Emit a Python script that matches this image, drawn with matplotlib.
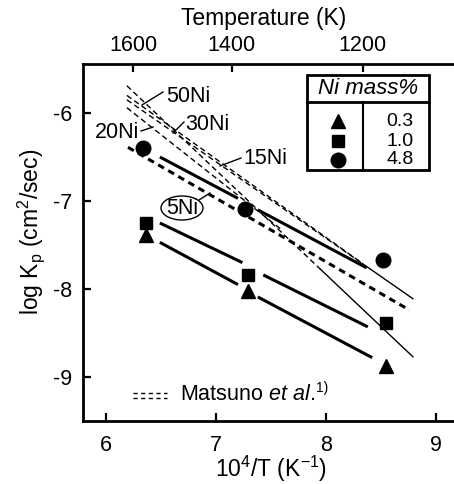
import matplotlib
matplotlib.use("Agg")
import matplotlib.pyplot as plt
from matplotlib.lines import Line2D
from matplotlib.patches import Rectangle, Ellipse

plt.rcParams['font.family'] = ['Liberation Sans', 'DejaVu Sans']
plt.rcParams['mathtext.fontset'] = 'custom'
plt.rcParams['mathtext.rm'] = 'Liberation Sans'
plt.rcParams['mathtext.it'] = 'Liberation Sans:italic'
plt.rcParams['axes.unicode_minus'] = False

# ---------------- data ----------------
# measured points (x = 10^4/T, y = log Kp)
tri_x = [6.36, 7.29, 8.55]
tri_y = [-7.39, -8.02, -8.88]
sq_x = [6.36, 7.29, 8.55]
sq_y = [-7.25, -7.84, -8.39]
cir_x = [6.34, 7.26, 8.52]
cir_y = [-6.40, -7.09, -7.67]

# fitted lines (thick solid, broken around the markers)
fit03_x = [[6.49, 7.20], [7.38, 8.42]]
fit03_y = [[-7.47, -7.95], [-8.09, -8.78]]
fit10_x = [[6.49, 7.24], [7.43, 8.38]]
fit10_y = [[-7.25, -7.70], [-7.84, -8.43]]
fit48_x = [[6.49, 7.20], [7.38, 8.37]]
fit48_y = [[-6.50, -6.97], [-7.10, -7.76]]

# Matsuno et al. lines (dashed part, then solid thin part)
m50_dash_x, m50_dash_y = [6.19, 7.95], [-5.69, -7.776]
m50_sol_x, m50_sol_y = [7.95, 8.79], [-7.776, -8.77]
m30_x, m30_y = [6.19, 8.31], [-5.80, -7.69]
m20_x, m20_y = [6.19, 7.60], [-5.94, -7.33]
m15_dash_x, m15_dash_y = [6.19, 8.33], [-5.85, -7.71]
m15_sol_x, m15_sol_y = [8.33, 8.79], [-7.71, -8.11]
m5_x, m5_y = [6.20, 8.76], [-6.39, -8.24]

x_ticks = [6, 7, 8, 9]
y_ticks = [-6, -7, -8, -9]
temp_ticks = [1600, 1400, 1200]
legend_title = "Ni mass%"
legend_vals = ["0.3", "1.0", "4.8"]

# ---------------- figure ----------------
W, H = 454, 484
fig = plt.figure(figsize=(W / 100, H / 100), dpi=100)

def fx(px):
    return px / W

def fy(py):
    return 1 - py / H

ax_l, ax_r, ax_t, ax_b = 83, 456, 64, 421
ax = fig.add_axes([fx(ax_l), fy(ax_b), fx(ax_r - ax_l), (ax_b - ax_t) / H])
ax.set_xlim(5.791, 9.182)
ax.set_ylim(-9.5, -5.443)

for s in ['left', 'bottom', 'top']:
    ax.spines[s].set_linewidth(2.0)
ax.spines['right'].set_visible(False)

ax.set_xticks(x_ticks)
ax.set_xticklabels([str(v) for v in x_ticks], fontsize=15.5)
ax.set_yticks(y_ticks)
ax.set_yticklabels([str(v) for v in y_ticks], fontsize=15.5)
ax.tick_params(direction='in', length=6, width=1.6, pad=8)
ax.tick_params(axis='x', pad=10)

ax2 = ax.twiny()
ax2.set_xlim(ax.get_xlim())
ax2.set_xticks([1e4 / t for t in temp_ticks])
ax2.set_xticklabels([str(t) for t in temp_ticks], fontsize=15.5)
ax2.tick_params(direction='in', length=6, width=1.6, pad=6)
for s in ax2.spines.values():
    s.set_visible(False)

# Matsuno lines
thin = dict(color='black', lw=1.0)
dash = (0, (4, 2.5))
ax.plot(m50_dash_x, m50_dash_y, linestyle=dash, **thin)
ax.plot(m50_sol_x, m50_sol_y, linestyle='-', **thin)
ax.plot(m30_x, m30_y, linestyle=dash, **thin)
ax.plot(m20_x, m20_y, linestyle=dash, **thin)
ax.plot(m15_dash_x, m15_dash_y, linestyle=dash, **thin)
ax.plot(m15_sol_x, m15_sol_y, linestyle='-', **thin)
ax.plot(m5_x, m5_y, color='black', lw=2.2, linestyle=(0, (2.2, 1.6)))

# fit lines
for xs, ys in [(fit03_x, fit03_y), (fit10_x, fit10_y), (fit48_x, fit48_y)]:
    for sx, sy in zip(xs, ys):
        ax.plot(sx, sy, color='black', lw=2.2, solid_capstyle='butt')

# markers
ax.plot(tri_x, tri_y, '^', color='black', ms=10, linestyle='none')
ax.plot(sq_x, sq_y, 's', color='black', ms=8.5, linestyle='none')
ax.plot(cir_x, cir_y, 'o', color='black', ms=10.5, linestyle='none')

# axis titles
fig.text(fx(264), fy(19), "Temperature (K)", ha='center', va='center', fontsize=16.5)
fig.text(fx(271), fy(469), r"10$^4$/T (K$^{-1}$)", ha='center', va='center', fontsize=16.5)
fig.text(fx(31), fy(232), r"log K$_{\mathrm{p}}$ (cm$^2$/sec)", ha='center', va='center',
         rotation=90, fontsize=16.5)

# line labels with leaders
labels = [("50Ni", 188, 96, (142, 105), (163, 92)),
          ("30Ni", 207, 124, (173, 133), (184, 122)),
          ("20Ni", 117, 132, (141, 131), (153, 127)),
          ("15Ni", 265, 158, (220, 166), (241, 158)),
          ("5Ni", 182, 208, (199, 200), (210, 193))]
for txt, cx, cy, p0, p1 in labels:
    fig.text(fx(cx), fy(cy), txt, ha='center', va='center', fontsize=15.5)
    fig.add_artist(Line2D([fx(p0[0]), fx(p1[0])], [fy(p0[1]), fy(p1[1])],
                          color='black', lw=1.0))
fig.add_artist(Ellipse((fx(182), fy(208)), 42 / W, 24 / H, fill=False,
                       edgecolor='black', lw=1.0))

# legend table
bx0, by0, bx1, by1 = 307, 75, 429, 170
fig.add_artist(Rectangle((fx(bx0), fy(by1)), (bx1 - bx0) / W, (by1 - by0) / H,
                         fill=True, facecolor='white', edgecolor='black', lw=2.0))
fig.add_artist(Line2D([fx(bx0), fx(bx1)], [fy(102), fy(102)], color='black', lw=2.0))
fig.add_artist(Line2D([fx(363), fx(363)], [fy(102), fy(by1)], color='black', lw=1.5))
fig.text(fx(368), fy(89), legend_title, ha='center', va='center', fontsize=16,
         style='italic')
row_y = [121, 141, 160]
for mk, ms, ry, val in zip(['^', 's', 'o'], [10, 8.5, 10.5], row_y, legend_vals):
    fig.add_artist(Line2D([fx(338)], [fy(ry)], marker=mk, color='black', ms=ms,
                          linestyle='none'))
    fig.text(fx(400), fy(ry), val, ha='center', va='center', fontsize=14)

# Matsuno legend
for ly in [393, 398]:
    fig.add_artist(Line2D([fx(133), fx(167)], [fy(ly), fy(ly)], color='black', lw=1.0,
                          linestyle=(0, (3, 2.5))))
mt = fig.text(fx(180), fy(394), r"Matsuno $\mathit{et\ al.}$", ha='left', va='center',
              fontsize=15.5)
fig.canvas.draw()
bb = mt.get_window_extent(renderer=fig.canvas.get_renderer())
fig.text(bb.x1 / W + 1 / W, fy(388), "1)", ha='left', va='center', fontsize=10)

fig.savefig("out.png", dpi=100)
